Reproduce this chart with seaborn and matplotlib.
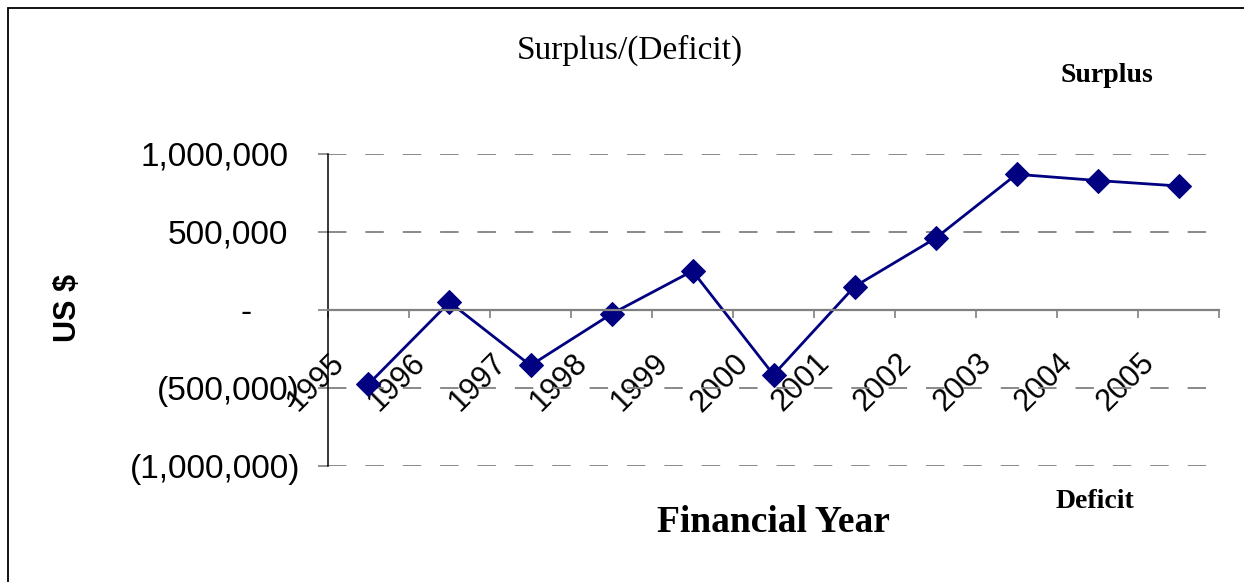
import matplotlib
matplotlib.use("Agg")
import matplotlib.pyplot as plt
import matplotlib.transforms as mtransforms
from matplotlib.patches import Rectangle
import seaborn as sns

# Data
years = ["1995", "1996", "1997", "1998", "1999", "2000",
         "2001", "2002", "2003", "2004", "2005"]
surplus = [-475000, 50000, -355000, -25000, 250000, -415000,
           150000, 460000, 870000, 830000, 795000]
y_ticks = [-1000000, -500000, 0, 500000, 1000000]
y_tick_labels = ["(1,000,000)", "(500,000)", "-", "500,000", "1,000,000"]

sns.set_style("white")
plt.rcParams["font.family"] = ["Liberation Sans", "DejaVu Sans"]
plt.rcParams["text.color"] = "black"
plt.rcParams["axes.labelcolor"] = "black"
plt.rcParams["xtick.labelcolor"] = "black"
plt.rcParams["ytick.labelcolor"] = "black"

W, H, DPI = 1244, 582, 100
fig = plt.figure(figsize=(W / DPI, H / DPI), dpi=DPI)
ax = fig.add_axes([328 / W, 1 - 466 / H, (1219 - 328) / W, (466 - 154) / H])

navy = "#000080"
grey = "#808080"

sns.lineplot(x=years, y=surplus, sort=False, ax=ax, color=navy,
             linewidth=2.0, marker="D", markersize=12,
             markeredgecolor=navy, markerfacecolor=navy)

n = len(years)
ax.set_xlim(-0.5, n - 0.5)
ax.set_ylim(-1000000, 1000000)

# y axis
ax.set_yticks(y_ticks)
ax.set_yticklabels(y_tick_labels, fontsize=24, color="black")
ax.tick_params(axis="y", direction="out", length=7, width=1.2, color=grey,
               pad=13, left=True)
ax.yaxis.grid(True, color=grey, linewidth=1.3, linestyle=(0, (10.2, 10.5)))
ax.xaxis.grid(False)
# accounting-style alignment of labels (space for the closing parenthesis)
shift = {"500,000": -12, "1,000,000": -12, "-": -49}
for lab in ax.get_yticklabels():
    dx = shift.get(lab.get_text(), 0)
    if dx:
        lab.set_transform(lab.get_transform() +
                          mtransforms.ScaledTranslation(dx / DPI, 0, fig.dpi_scale_trans))

# x axis crossing at zero, ticks between categories, labels at centres
ax.spines["bottom"].set_position(("data", 0))
ax.spines["bottom"].set_color(grey)
ax.spines["bottom"].set_linewidth(1.6)
ax.spines["left"].set_color("black")
ax.spines["left"].set_linewidth(1.1)
ax.spines["top"].set_visible(False)
ax.spines["right"].set_visible(False)

ax.set_xticks([i - 0.5 for i in range(n + 1)])
ax.set_xticklabels([])
ax.tick_params(axis="x", which="major", direction="out", length=6, width=1.2,
               color=grey, bottom=True)
ax.set_xticks(range(n), minor=True)
ax.set_xticklabels(years, minor=True, fontsize=22, color="black")
ax.tick_params(axis="x", which="minor", length=0, pad=35)
for lab in ax.get_xticklabels(minor=True):
    lab.set_rotation(45)
    lab.set_rotation_mode("anchor")
    lab.set_ha("right")
    lab.set_va("center")
    lab.set_transform(lab.get_transform() +
                      mtransforms.ScaledTranslation(-29 / DPI, 0, fig.dpi_scale_trans))

ax.set_xlabel("Financial Year", family="Liberation Serif", fontweight="bold",
              fontsize=27, va="center", color="black")
ax.xaxis.set_label_coords(0.5, (466 - 522) / 312)
ax.set_ylabel("US $", fontweight="bold", fontsize=22, va="center", color="black")
ax.yaxis.set_label_coords((68 - 328) / 891, (466 - 308) / 312)

fig.text(630 / W, 1 - 50 / H, "Surplus/(Deficit)", family="Liberation Serif",
         fontsize=24, ha="center", va="center", color="black")
fig.text(1107 / W, 1 - 75 / H, "Surplus", family="Liberation Serif",
         fontweight="bold", fontsize=20, ha="center", va="center", color="black")
fig.text(1095 / W, 1 - 502 / H, "Deficit", family="Liberation Serif",
         fontweight="bold", fontsize=20, ha="center", va="center", color="black")

# frame: only the top and left edges are visible in the picture
fig.add_artist(Rectangle((8 / W, -0.5), 2, 1.5 - 8 / H, transform=fig.transFigure,
                         fill=False, edgecolor="black", linewidth=1.3))

fig.savefig("out.png", dpi=DPI)
